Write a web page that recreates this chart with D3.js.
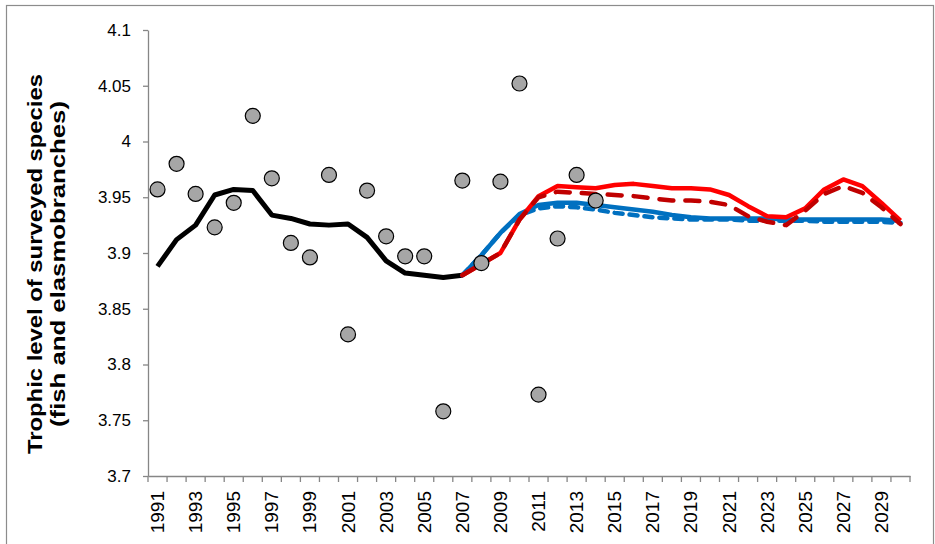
<!DOCTYPE html>
<html><head><meta charset="utf-8">
<script src="https://cdn.jsdelivr.net/npm/d3@7"></script>
<style>
html,body{margin:0;padding:0;background:#fff;}
svg{display:block;}
</style></head>
<body>
<svg id="chart" width="935" height="544"></svg>
<script>
// ---- data ----
const years = d3.range(1991, 2031);
const yTicks = [3.7, 3.75, 3.8, 3.85, 3.9, 3.95, 4, 4.05, 4.1];
const xTickLabels = d3.range(1991, 2031, 2);

const observedYears = d3.range(1991, 2015);
const observed = [3.957, 3.980, 3.953, 3.923, 3.945, 4.023, 3.967, 3.909, 3.896, 3.970,
                  3.827, 3.956, 3.915, 3.897, 3.897, 3.758, 3.965, 3.891, 3.964, 4.052,
                  3.773, 3.913, 3.970, 3.947];

const trendYears = d3.range(1991, 2008);
const trend = [3.888, 3.912, 3.925, 3.952, 3.957, 3.956, 3.934, 3.931, 3.926, 3.925,
               3.926, 3.914, 3.893, 3.882, 3.880, 3.878, 3.880];

const scenYears = d3.range(2007, 2031);
const blueSolid = [3.880, 3.898, 3.918, 3.935, 3.943, 3.945, 3.945, 3.943, 3.941, 3.939,
                   3.937, 3.934, 3.932, 3.931, 3.931, 3.931, 3.931, 3.930, 3.930, 3.930,
                   3.930, 3.930, 3.930, 3.929];
const blueDashed = [3.880, 3.898, 3.918, 3.934, 3.940, 3.942, 3.941, 3.939, 3.936, 3.934,
                    3.932, 3.931, 3.930, 3.930, 3.930, 3.929, 3.929, 3.929, 3.929, 3.928,
                    3.928, 3.928, 3.928, 3.927];
const redSolid = [3.880, 3.890, 3.900, 3.930, 3.951, 3.960, 3.959, 3.958, 3.961, 3.962,
                  3.960, 3.958, 3.958, 3.957, 3.952, 3.942, 3.933, 3.932, 3.940, 3.957,
                  3.966, 3.960, 3.945, 3.929];
const redDashed = [3.880, 3.890, 3.900, 3.930, 3.950, 3.955, 3.954, 3.953, 3.952, 3.951,
                   3.949, 3.947, 3.947, 3.946, 3.943, 3.933, 3.928, 3.925, 3.938, 3.953,
                   3.960, 3.954, 3.941, 3.926];

// ---- layout ----
const svg = d3.select("#chart");
const L = 148, R = 910, T = 30, B = 476;

svg.append("rect").attr("x", 6.5).attr("y", 5.5).attr("width", 927).attr("height", 545)
  .attr("fill", "none").attr("stroke", "#8c8c8c").attr("stroke-width", 1.2);

const x = d3.scaleBand().domain(years).range([L, R]).padding(0);
const xc = yr => x(yr) + x.bandwidth() / 2;
const y = d3.scaleLinear().domain([3.7, 4.1]).range([B, T]);

// y axis
const yAxis = d3.axisLeft(y).tickValues(yTicks).tickSize(5).tickSizeOuter(0)
  .tickFormat(d => d3.format("")(+d.toFixed(2)));
const gy = svg.append("g").attr("transform", `translate(${L},0)`).call(yAxis);
gy.select(".domain").attr("stroke", "#868686").attr("stroke-width", 1.3);
gy.selectAll(".tick line").attr("stroke", "#868686").attr("stroke-width", 1.3);
gy.selectAll(".tick text").attr("font-family", "Liberation Sans, Arial, sans-serif")
  .attr("font-size", 17).attr("fill", "#000").attr("dx", -9);

// x axis
const xAxis = d3.axisBottom(x).tickValues([]).tickSizeOuter(0);
const gx = svg.append("g").attr("transform", `translate(0,${B})`).call(xAxis);
gx.select(".domain").attr("stroke", "#868686").attr("stroke-width", 1.3);
const boundaries = years.map(yr => x(yr)).concat([R]);
gx.selectAll("line.bt").data(boundaries).enter().append("line")
  .attr("class", "bt").attr("x1", d => d).attr("x2", d => d)
  .attr("y1", 0).attr("y2", 6).attr("stroke", "#868686").attr("stroke-width", 1.3);

svg.append("g").selectAll("text.xl").data(xTickLabels).enter().append("text")
  .attr("class", "xl")
  .attr("transform", d => `translate(${xc(d) + 6.5},${491}) rotate(-90)`)
  .attr("text-anchor", "end")
  .attr("font-family", "Liberation Sans, Arial, sans-serif")
  .attr("font-size", 19).attr("fill", "#000")
  .text(d => d);

// y axis title
const title = svg.append("text")
  .attr("transform", `translate(35,264) rotate(-90)`)
  .attr("text-anchor", "middle")
  .attr("font-family", "Liberation Sans, Arial, sans-serif")
  .attr("font-weight", "bold").attr("font-size", 20).attr("fill", "#000");
title.append("tspan").attr("x", 0).attr("dy", "0.35em")
  .attr("textLength", 380).attr("lengthAdjust", "spacingAndGlyphs")
  .text("Trophic level of surveyed species");
title.append("tspan").attr("x", 0).attr("dy", "1.15em")
  .attr("textLength", 326).attr("lengthAdjust", "spacingAndGlyphs")
  .text("(fish and elasmobranches)");

// lines
const line = d3.line().x(d => xc(d[0])).y(d => y(d[1]));
const zip = (a, b) => a.map((v, i) => [v, b[i]]);

function drawLine(data, color, width, dash) {
  svg.append("path").datum(data).attr("d", line)
    .attr("fill", "none").attr("stroke", color).attr("stroke-width", width)
    .attr("stroke-linejoin", "round").attr("stroke-linecap", dash ? "round" : "butt")
    .attr("stroke-dasharray", dash || null);
}
drawLine(zip(trendYears, trend), "#000000", 5);
drawLine(zip(scenYears, blueSolid), "#0070C0", 4.5);
drawLine(zip(scenYears, blueDashed), "#0070C0", 4.5, "8,7");
drawLine(zip(scenYears, redSolid), "#FF0000", 4.5);
drawLine(zip(scenYears, redDashed), "#C00000", 4.5, "14,12");

// observed points
svg.selectAll("circle.obs").data(zip(observedYears, observed)).enter().append("circle")
  .attr("class", "obs")
  .attr("cx", d => xc(d[0])).attr("cy", d => y(d[1])).attr("r", 7.5)
  .attr("fill", "#A6A6A6").attr("stroke", "#000").attr("stroke-width", 1.2);
</script>
</body></html>
